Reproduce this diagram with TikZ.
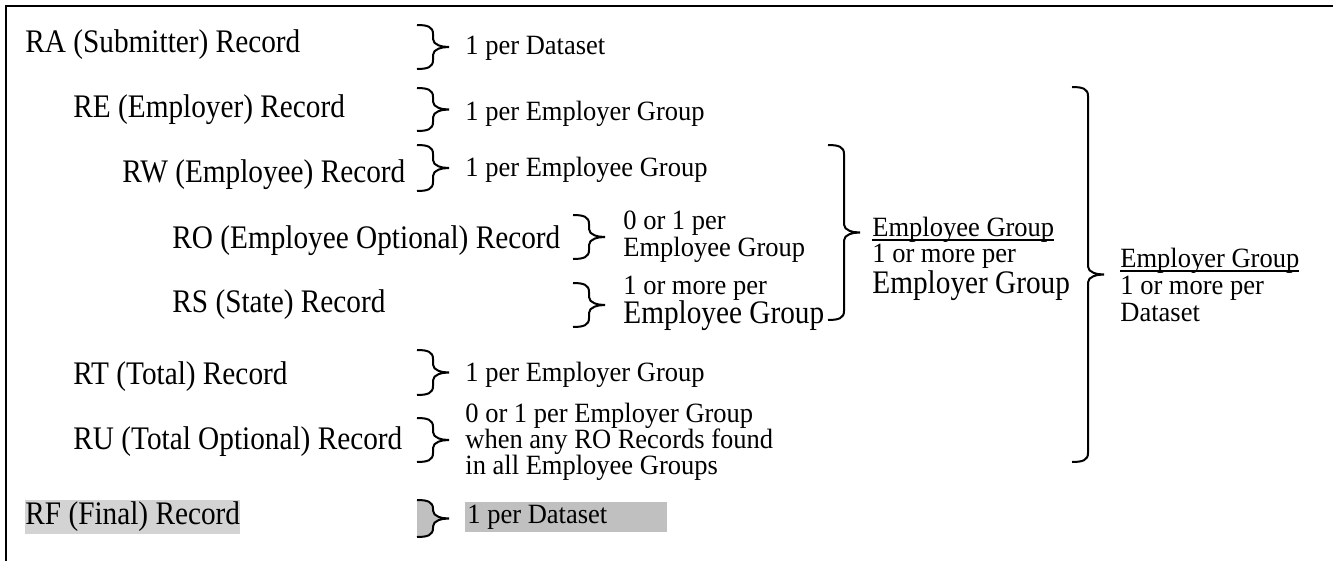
\documentclass[tikz,border=0pt]{standalone}
\usepackage{fontspec}
\setmainfont{Liberation Serif}[FakeStretch=0.95]
\newfontfamily\recfamily{Liberation Serif}[FakeStretch=0.89]
\lineskiplimit=-20pt

\definecolor{lightshade}{RGB}{211,211,211}
\definecolor{darkshade}{RGB}{192,192,192}

\newcommand\recfont{\recfamily\fontsize{16.45}{16}\selectfont}
\newcommand\notefont{\fontsize{13.95}{13}\selectfont}
% underlined group heading
\newcommand\grouphead[1]{\setbox0\hbox{#1}\rlap{\rule[-2pt]{\wd0}{0.7pt}}\box0}

% right brace: #2 = x of the ends, #3 = top, #4 = bottom
\newcommand\wordbrace[4][]{%
  \pgfmathsetmacro\bracemid{(#3+#4)/2}%
  \draw[line width=1pt,#1] (#2,#3) .. controls +(11,0) and +(0,-7) .. (#2+16,#3+9)
    -- (#2+16,\bracemid-8) .. controls +(0,6) and +(-7,0) .. (#2+32,\bracemid)
    .. controls +(-7,0) and +(0,-6) .. (#2+16,\bracemid+8)
    -- (#2+16,#4-9) .. controls +(0,7) and +(11,0) .. (#2,#4);%
}

\begin{document}
\begin{tikzpicture}[x=0.5pt, y=-0.5pt,
  rec/.style={anchor=west, inner sep=0pt, font=\recfont},
  note/.style={anchor=west, inner sep=0pt, align=left, font=\notefont}]
  \useasboundingbox (0,0) rectangle (1333,561);
  % frame
  \draw[line width=1pt] (6,561) -- (6,6) -- (1333,6);

  % records
  \node[rec] (ra) at (25,45) {RA (Submitter) Record};
  \node[rec] (re) at (73,110) {RE (Employer) Record};
  \node[rec] (rw) at (122,175) {RW (Employee) Record};
  \node[rec] (ro) at (172,241) {RO (Employee Optional) Record};
  \node[rec] (rs) at (172,305) {RS (State) Record};
  \node[rec] (rt) at (73,377) {RT (Total) Record};
  \node[rec] (ru) at (73,442) {RU (Total Optional) Record};
  \node[rec, fill=lightshade, inner ysep=0.9pt] (rf) at (25,517) {RF (Final) Record};

  % braces
  \wordbrace{417}{25}{69}
  \wordbrace{417}{88}{131}
  \wordbrace{417}{145}{191}
  \wordbrace{573}{215}{259}
  \wordbrace{573}{283}{327}
  \wordbrace{417}{350}{395}
  \wordbrace{417}{418}{462}
  \wordbrace[fill=darkshade]{417}{500}{537}
  \wordbrace{828}{145}{320}
  \wordbrace{1072}{87}{462}

  % counts
  \node[note] (ranote) at (465,48) {1 per Dataset};
  \node[note] (renote) at (465,114) {1 per Employer Group};
  \node[note] (rwnote) at (465,170) {1 per Employee Group};
  \node[note, font=\fontsize{13.95}{13.5}\selectfont] (ronote) at (623,237) {0 or 1 per\\Employee Group};
  \node[note, font=\fontsize{13.95}{14.5}\selectfont] (rsnote) at (623,303) {1 or more per\\\recfont Employee Group};
  \node[note] (rtnote) at (465,375) {1 per Employer Group};
  \node[note] (runote) at (465,442) {0 or 1 per Employer Group\\when any RO Records found\\in all Employee Groups};
  \node[note, fill=darkshade, inner xsep=1pt, inner ysep=1.4pt] (rfnote) at (465,517) {1 per Dataset\hspace*{29pt}};

  % groups
  \node[note, font=\fontsize{13.95}{13}\selectfont] (eegroup) at (872,259) {\grouphead{Employee Group}\\1 or more per\\[2.5pt]\recfont Employer Group};
  \node[note, font=\fontsize{13.95}{13.5}\selectfont] (ergroup) at (1120,285) {\grouphead{Employer Group}\\1 or more per\\Dataset};
\end{tikzpicture}
\end{document}
